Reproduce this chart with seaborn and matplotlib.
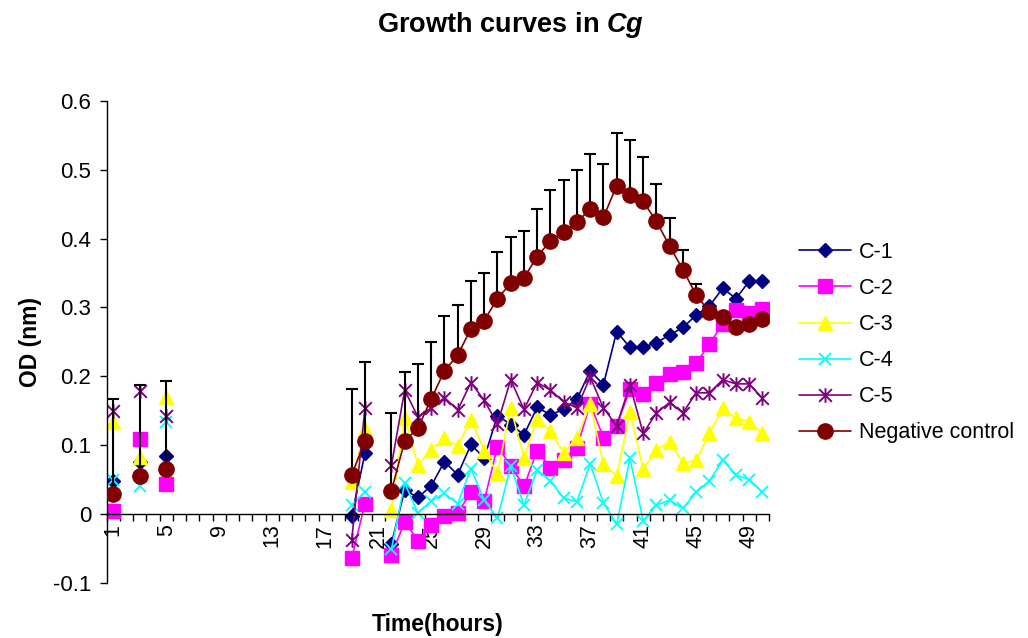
import numpy as np
import pandas as pd
import seaborn as sns
import matplotlib.pyplot as plt
from matplotlib.path import Path
from matplotlib.lines import Line2D

# ---------------- data ----------------
times = [1, 3, 5, 19, 20, 22, 23, 24, 25, 26, 27, 28, 29, 30, 31, 32, 33, 34,
         35, 36, 37, 38, 39, 40, 41, 42, 43, 44, 45, 46, 47, 48, 49, 50]

c1 = [0.048, 0.075, 0.084, -0.003, 0.088, -0.043, 0.035, 0.024, 0.041, 0.076,
      0.057, 0.101, 0.081, 0.143, 0.130, 0.115, 0.155, 0.144, 0.152, 0.167,
      0.208, 0.188, 0.265, 0.242, 0.242, 0.249, 0.260, 0.271, 0.289, 0.302,
      0.328, 0.313, 0.338, 0.339]
c2 = [0.004, 0.109, 0.044, -0.064, 0.015, -0.060, -0.011, -0.039, -0.016, -0.003,
      0.001, 0.032, 0.019, 0.098, 0.070, 0.040, 0.092, 0.067, 0.079, 0.096,
      0.160, 0.111, 0.128, 0.181, 0.174, 0.190, 0.203, 0.207, 0.219, 0.247,
      0.276, 0.296, 0.292, 0.298]
c3 = [0.134, 0.083, 0.170, 0.046, 0.123, 0.006, 0.140, 0.071, 0.093, 0.110,
      0.099, 0.137, 0.092, 0.059, 0.154, 0.082, 0.138, 0.120, 0.089, 0.110,
      0.160, 0.073, 0.055, 0.148, 0.065, 0.093, 0.105, 0.074, 0.078, 0.117,
      0.154, 0.139, 0.134, 0.118]
c4 = [0.050, 0.041, 0.133, 0.013, 0.032, -0.051, 0.045, 0.001, 0.019, 0.030,
      0.015, 0.066, 0.020, -0.006, 0.069, 0.013, 0.064, 0.048, 0.023, 0.018,
      0.073, 0.016, -0.015, 0.081, -0.010, 0.013, 0.020, 0.008, 0.032, 0.048,
      0.078, 0.057, 0.050, 0.032]
c5 = [0.149, 0.178, 0.142, -0.038, 0.154, 0.071, 0.180, 0.141, 0.154, 0.169,
      0.151, 0.191, 0.165, 0.131, 0.195, 0.152, 0.191, 0.180, 0.163, 0.154,
      0.199, 0.154, 0.128, 0.188, 0.117, 0.147, 0.162, 0.147, 0.176, 0.176,
      0.195, 0.189, 0.189, 0.168]
neg = [0.029, 0.055, 0.065, 0.057, 0.106, 0.034, 0.106, 0.125, 0.167, 0.208,
       0.231, 0.269, 0.281, 0.313, 0.335, 0.343, 0.374, 0.397, 0.410, 0.424,
       0.443, 0.431, 0.477, 0.463, 0.454, 0.425, 0.389, 0.355, 0.318, 0.294,
       0.286, 0.271, 0.276, 0.284]
neg_err = [0.138, 0.132, 0.128, 0.125, 0.115, 0.113, 0.101, 0.093, 0.083, 0.079,
           0.073, 0.070, 0.069, 0.068, 0.067, 0.068, 0.069, 0.073, 0.075, 0.076,
           0.080, 0.077, 0.077, 0.080, 0.065, 0.055, 0.041, 0.028, 0.016, 0.006,
           0.0, 0.0, 0.0, 0.0]

series_names = ['C-1', 'C-2', 'C-3', 'C-4', 'C-5', 'Negative control']
x_tick_labels = ['1', '5', '9', '13', '17', '21', '25', '29', '33', '37', '41', '45', '49']
x_tick_pos = [1, 5, 9, 13, 17, 21, 25, 29, 33, 37, 41, 45, 49]
y_ticks = [-0.1, 0, 0.1, 0.2, 0.3, 0.4, 0.5, 0.6]
y_tick_labels = ['-0.1', '0', '0.1', '0.2', '0.3', '0.4', '0.5', '0.6']

# ---------------- build table ----------------
seg = np.cumsum(np.diff(times, prepend=times[0] - 2) > 1)
frames = []
for name, vals in zip(series_names, [c1, c2, c3, c4, c5, neg]):
    frames.append(pd.DataFrame({'time': times, 'od': vals, 'series': name, 'seg': seg}))
df = pd.concat(frames, ignore_index=True)

# ---------------- style ----------------
sns.set_style('ticks')
plt.rcParams['font.family'] = ['Liberation Sans', 'DejaVu Sans']
plt.rcParams['mathtext.fontset'] = 'custom'
plt.rcParams['mathtext.it'] = 'Liberation Sans:italic:bold'
plt.rcParams['mathtext.rm'] = 'Liberation Sans:bold'
for key in ['text.color', 'axes.labelcolor', 'xtick.color', 'ytick.color', 'axes.edgecolor']:
    plt.rcParams[key] = 'black'

star = Path([(-1, -1), (1, 1), (-1, 1), (1, -1), (0, -1.15), (0, 1.15)],
            [Path.MOVETO, Path.LINETO, Path.MOVETO, Path.LINETO, Path.MOVETO, Path.LINETO])

styles = {
    'C-1': dict(color='#000080', marker='D', ms=7.5, mew=1.0),
    'C-2': dict(color='#FF00FF', marker='s', ms=9.5, mew=1.0),
    'C-3': dict(color='#FFFF00', marker='^', ms=10.5, mew=1.0),
    'C-4': dict(color='#00FFFF', marker='x', ms=9.0, mew=1.3),
    'C-5': dict(color='#800080', marker=star, ms=10.5, mew=1.4),
    'Negative control': dict(color='#800000', marker='o', ms=11.0, mew=1.0),
}

fig = plt.figure(figsize=(10.28, 6.38), dpi=100)
ax = fig.add_axes([0.1037, 0.0865, 0.6444, 0.7552])

for k, name in enumerate(series_names):
    st = styles[name]
    sub = df[df['series'] == name]
    if name == 'Negative control':
        ax.errorbar(times, neg, yerr=[np.zeros(len(neg)), neg_err], fmt='none',
                    ecolor='black', elinewidth=1.5, capsize=4.5, capthick=1.5,
                    zorder=2.55)
    sns.lineplot(data=sub, x='time', y='od', units='seg', estimator=None,
                 color=st['color'], marker=st['marker'], markersize=st['ms'],
                 markerfacecolor=st['color'], markeredgecolor=st['color'],
                 markeredgewidth=st['mew'], linewidth=1.2, legend=False,
                 ax=ax, zorder=2.1 + 0.1 * k)

# ---------------- axes ----------------
ax.set_xlim(0.5, 50.5)
ax.set_ylim(-0.1, 0.6)
sns.despine(ax=ax)
ax.spines['bottom'].set_position(('data', 0))
for sp in ['left', 'bottom']:
    ax.spines[sp].set_color('black')
    ax.spines[sp].set_linewidth(1.0)

ax.set_xticks(x_tick_pos)
ax.set_xticklabels(x_tick_labels, rotation=90, fontsize=15.5)
ax.set_xticks(np.arange(0.5, 51, 1), minor=True)
ax.tick_params(axis='x', which='major', length=0, pad=7, colors='black')
ax.tick_params(axis='x', which='minor', length=5, width=1, direction='out', color='black')

ax.set_yticks(y_ticks)
ax.set_yticklabels(y_tick_labels, fontsize=16)
ax.tick_params(axis='y', which='major', length=5, width=1, direction='out',
               color='black', labelcolor='black', pad=6)
ax.set_xlabel('')
ax.set_ylabel('')

fig.text(510 / 1028, 1 - 25 / 638, r'Growth curves in $\mathit{Cg}$', ha='center', va='center',
         fontsize=19.5, fontweight='bold', color='black')
fig.text(438 / 1028, 1 - 625 / 638, 'Time(hours)', ha='center', va='center',
         fontsize=16.5, fontweight='bold', color='black')
fig.text(30 / 1028, 1 - 342 / 638, 'OD (nm)', ha='center', va='center', rotation=90,
         fontsize=16.5, fontweight='bold', color='black')

handles = []
for name in series_names:
    st = styles[name]
    handles.append(Line2D([0], [0], color=st['color'], lw=1.2, marker=st['marker'],
                          ms=st['ms'], mfc=st['color'], mec=st['color'], mew=st['mew']))
leg = fig.legend(handles, series_names, loc='center left', bbox_to_anchor=(0.777, 0.463),
                 bbox_transform=fig.transFigure, frameon=False, fontsize=15.5,
                 handlelength=2.45, handletextpad=0.35, labelspacing=0.70,
                 borderpad=0, borderaxespad=0)
for t in leg.get_texts():
    t.set_color('black')

fig.savefig('out.png', dpi=100)
